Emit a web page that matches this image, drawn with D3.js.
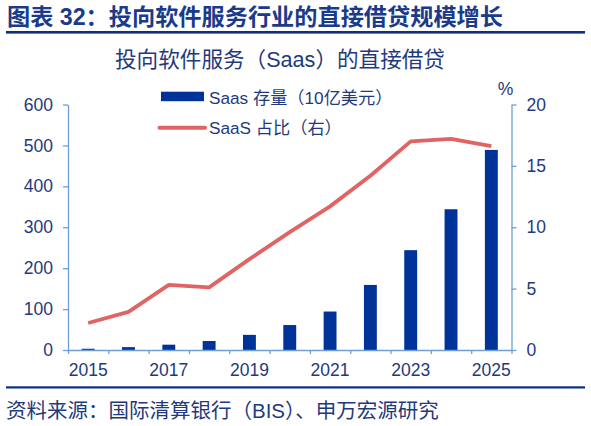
<!DOCTYPE html>
<html><head><meta charset="utf-8">
<script src="https://cdn.jsdelivr.net/npm/d3@7/dist/d3.min.js"></script>
<style>
html,body{margin:0;padding:0;background:#fff;}
svg{display:block;font-family:"Liberation Sans","Noto Sans CJK SC",sans-serif;}
</style></head><body>
<svg id="c" width="591" height="426"></svg>
<script>
const years = [2015,2016,2017,2018,2019,2020,2021,2022,2023,2024,2025];
const saasStock = [3,7,13,22,37,61,94,159,244,344,489];
const saasShare = [2.2,3.1,5.3,5.1,7.4,9.6,11.7,14.2,17.0,17.2,16.6];
const leftTicks = [0,100,200,300,400,500,600];
const rightTicks = [0,5,10,15,20];
const xLabels = [2015,2017,2019,2021,2023,2025];

const title = "图表 32：投向软件服务行业的直接借贷规模增长";
const subtitle = "投向软件服务（Saas）的直接借贷";
const legendBar = "Saas 存量（10亿美元）";
const legendLine = "SaaS 占比（右）";
const source = "资料来源：国际清算银行（BIS）、申万宏源研究";

const navy = "#1f3a7c", axisCol = "#6f9fd2", barCol = "#003399", lineCol = "#e06464";
const svg = d3.select("#c");

const L = 68, R = 511.5, T = 104.5, B = 350;
const x = d3.scaleBand().domain(years).range([L, R]).padding(0);
const xEdge = d3.scaleLinear().domain([0, years.length]).range([L, R]);
const yL = d3.scaleLinear().domain([0, 600]).range([B, T]);
const yR = d3.scaleLinear().domain([0, 20]).range([B, T]);

// header
svg.append("text").attr("x", 7).attr("y", 25).text(title)
  .attr("font-size", 23.2).attr("font-weight", "bold").attr("fill", "#1a3a8a");
svg.append("rect").attr("x", 6).attr("y", 31).attr("width", 579).attr("height", 2.6).attr("fill", "#0d2f80");
svg.append("text").attr("x", 280).attr("y", 67).attr("text-anchor", "middle").text(subtitle)
  .attr("font-size", 21.6).attr("fill", navy);

// bars
const bw = x.bandwidth();
svg.append("g").selectAll("rect").data(years).join("rect")
  .attr("x", d => x(d) + bw * 0.34)
  .attr("width", bw * 0.32)
  .attr("y", (d, i) => yL(saasStock[i]))
  .attr("height", (d, i) => B - yL(saasStock[i]))
  .attr("fill", barCol);

// line
const line = d3.line().x(d => x(d[0]) + bw / 2).y(d => yR(d[1]));
svg.append("path").datum(years.map((y, i) => [y, saasShare[i]]))
  .attr("d", line).attr("fill", "none").attr("stroke", lineCol)
  .attr("stroke-width", 3.8).attr("stroke-linejoin", "round");

// axes
function styleAxis(g) {
  g.select(".domain").attr("stroke", axisCol).attr("stroke-width", 1.3);
  g.selectAll(".tick line").attr("stroke", axisCol).attr("stroke-width", 1.3);
  g.selectAll("text").attr("fill", navy).attr("font-size", 17.5)
    .attr("font-family", "Liberation Sans, sans-serif");
}
const gl = svg.append("g").attr("transform", `translate(${L},0)`)
  .call(d3.axisLeft(yL).tickValues(leftTicks).tickSize(5).tickPadding(10).tickSizeOuter(0));
styleAxis(gl);
const gr = svg.append("g").attr("transform", `translate(${R},0)`)
  .call(d3.axisRight(yR).tickValues(rightTicks).tickSize(5).tickPadding(10).tickSizeOuter(0));
styleAxis(gr);
const gx = svg.append("g").attr("transform", `translate(0,${B})`)
  .call(d3.axisBottom(xEdge).tickValues(d3.range(years.length + 1)).tickSize(4).tickFormat("").tickSizeOuter(0));
styleAxis(gx);
const gxl = svg.append("g").attr("transform", `translate(0,${B})`)
  .call(d3.axisBottom(x).tickValues(xLabels).tickSize(0).tickPadding(14));
gxl.select(".domain").remove();
styleAxis(gxl);

svg.append("text").attr("x", 505.5).attr("y", 94.5).attr("text-anchor", "middle").text("%")
  .attr("font-size", 17.5).attr("fill", navy);

// legend
svg.append("rect").attr("x", 161).attr("y", 91.7).attr("width", 43).attr("height", 9.5).attr("fill", barCol);
svg.append("text").attr("x", 209).attr("y", 103.5).text(legendBar).attr("font-size", 17.2).attr("fill", navy);
svg.append("line").attr("x1", 159.5).attr("x2", 205).attr("y1", 127.7).attr("y2", 127.7)
  .attr("stroke", lineCol).attr("stroke-width", 4).attr("stroke-linecap", "round");
svg.append("text").attr("x", 209).attr("y", 134.3).text(legendLine).attr("font-size", 17.2).attr("fill", navy);

// footer
svg.append("rect").attr("x", 6).attr("y", 386.3).attr("width", 579).attr("height", 2.2).attr("fill", "#0d2f80");
svg.append("text").attr("x", 6).attr("y", 417.5).text(source).attr("font-size", 20.5).attr("fill", navy);
</script>
</body></html>
